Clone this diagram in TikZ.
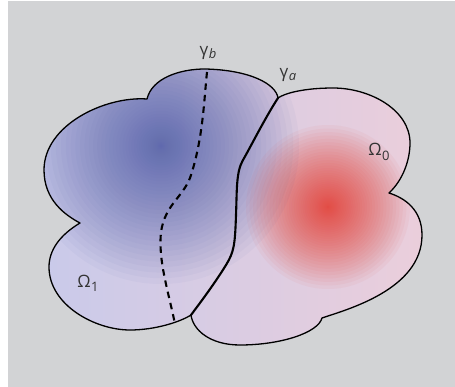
\documentclass[tikz,border=0pt]{standalone}
\usepackage{fontspec}
\setmainfont{Open Sans}
\definecolor{bg}{HTML}{D2D3D5}
\definecolor{lavL}{HTML}{C9CAEA}
\definecolor{midC}{HTML}{D6C0DC}
\definecolor{pinkR}{HTML}{EBCEDB}
\definecolor{blueC}{HTML}{5865AE}
\definecolor{redC}{HTML}{E2443A}
\definecolor{txt}{HTML}{333333}
\tikzset{
  outline/.style={draw=black, line width=1.3pt, line join=round},
  gammaa/.style={draw=black, line width=2.1pt, line cap=round},
  gammab/.style={draw=black, line width=2.1pt, dash pattern=on 6.5pt off 5pt},
  lbl/.style={text=txt, font=\fontsize{17}{17}\selectfont, inner sep=0pt}
}
\newcommand{\blobpath}{(278,98) .. controls (276,84) and (250,70) .. (205,69)
  .. controls (180,69) and (152,78) .. (147,99)
  .. controls (105,96) and (44,125) .. (44,170)
  .. controls (44,200) and (65,215) .. (80,223)
  .. controls (60,235) and (49,250) .. (49,267)
  .. controls (49,305) and (95,330) .. (130,330)
  .. controls (155,330) and (180,322) .. (191,315)
  .. controls (193,330) and (210,345) .. (240,345)
  .. controls (280,345) and (318,333) .. (322,318)
  .. controls (345,310) and (422,290) .. (422,235)
  .. controls (422,210) and (405,198) .. (389,193)
  .. controls (403,180) and (410,160) .. (410,143)
  .. controls (410,110) and (370,88) .. (333,88)
  .. controls (305,88) and (285,93) .. (278,98) -- cycle}
\begin{document}
\begin{tikzpicture}[x=1pt,y=-1pt]
\useasboundingbox (0,0) rectangle (455,387);
\fill[white] (0,0) rectangle (455,387);
\fill[bg] (8,1) rectangle (455,387);
\begin{scope}
  \clip \blobpath;
  \fill[left color=lavL, middle color=midC, right color=pinkR] (40,60) rectangle (425,350);
  \foreach \i in {1,...,45} {
    \fill[blueC, fill opacity=0.048] (161,146) circle ({138*(\i/45)^1.9});
  }
  \foreach \i in {1,...,45} {
    \fill[redC, fill opacity=0.05] (328,207) circle ({82*(\i/45)^2});
  }
\end{scope}
\path[outline] \blobpath;
\coordinate (ja) at (278,98);
\coordinate (jb) at (191,315);
\coordinate (tb) at (207,72);
\coordinate (bb) at (175,324);
\path[gammaa] (ja) .. controls (265,118) and (250,148) .. (243,160)
  .. controls (236,172) and (237,190) .. (236,215)
  .. controls (235,245) and (234,252) .. (226,265)
  .. controls (215,283) and (200,303) .. (jb);
\path[gammab] (tb) .. controls (204,100) and (203,140) .. (190,178)
  .. controls (182,198) and (165,205) .. (161,232)
  .. controls (158,260) and (168,290) .. (bb);
\node[lbl] (gb) at (208,53) {γ\kern0.5pt\raisebox{-0.2em}{\fontsize{13}{13}\selectfont\itshape b}};
\node[lbl] (ga) at (288,75) {γ\kern0.5pt\raisebox{-0.2em}{\fontsize{13}{13}\selectfont\itshape a}};
\node[lbl] (o0) at (379,152) {Ω\kern0.5pt\raisebox{-0.25em}{\fontsize{13}{13}\selectfont 0}};
\node[lbl] (o1) at (88,283) {Ω\kern0.5pt\raisebox{-0.25em}{\fontsize{13}{13}\selectfont 1}};
\end{tikzpicture}
\end{document}
